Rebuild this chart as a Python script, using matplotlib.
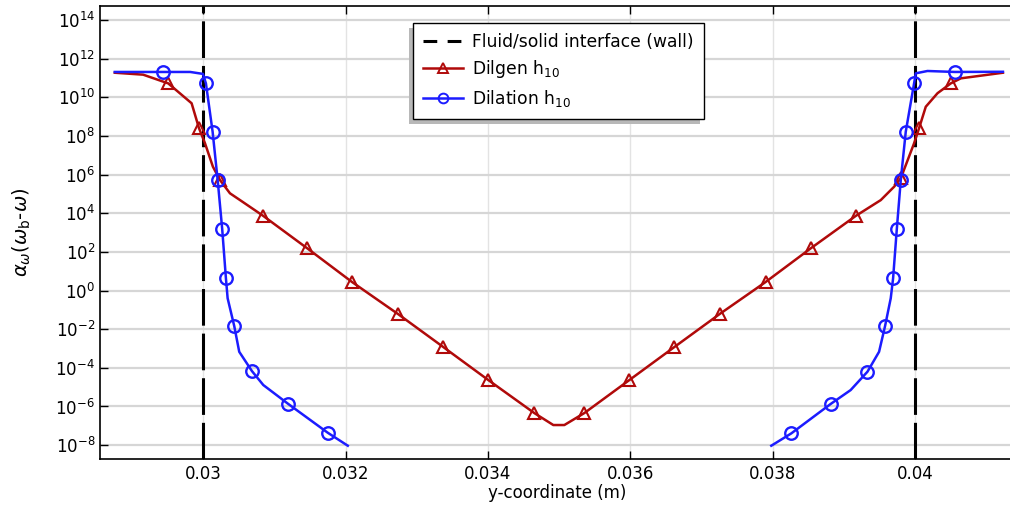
import numpy as np
import matplotlib
matplotlib.use("Agg")
import matplotlib.pyplot as plt
from matplotlib.patches import Rectangle
from matplotlib.ticker import FixedLocator, NullLocator, LogFormatterSciNotation

plt.rcParams["mathtext.fontset"] = "dejavusans"

# Dilgen h10 curve: y-coordinate (m) and log10 of alpha_w(w_b - w)
dilgen_y = [0.028758, 0.029156, 0.029508, 0.029837, 0.029940, 0.030024, 0.030136,
            0.030235, 0.030376, 0.030517, 0.030844, 0.031463, 0.032091, 0.032738,
            0.033371, 0.034004, 0.034651, 0.034918, 0.035073, 0.035354, 0.035987,
            0.036620, 0.037253, 0.037900, 0.038533, 0.039166, 0.039518, 0.039705,
            0.039799, 0.039986, 0.040056, 0.040150, 0.040315, 0.040502, 0.040643,
            0.041234]
dilgen_log = [11.27, 11.17, 10.72, 9.69, 8.41, 7.63, 6.41,
              5.72, 5.03, 4.68, 3.86, 2.18, 0.44, -1.22,
              -2.92, -4.63, -6.34, -6.96, -6.96, -6.34, -4.63,
              -2.92, -1.22, 0.44, 2.18, 3.86, 4.68, 5.37,
              5.81, 7.62, 8.40, 9.51, 10.21, 10.72, 10.98,
              11.27]
dilgen_marks = [2, 4, 7, 10, 11, 12, 13, 14, 15, 16, 19, 20, 21, 22, 23, 24, 25,
                28, 30, 33]

# Dilation h10 curve (gap in the middle of the channel)
dilation_y = [0.028758, 0.029435, 0.029817, 0.029996, 0.030038, 0.030132, 0.030203,
              0.030267, 0.030319, 0.030343, 0.030436, 0.030506, 0.030685, 0.030844,
              0.031195, 0.031750, 0.032031, np.nan,
              0.037980, 0.038262, 0.038814, 0.039095, 0.039331, 0.039494, 0.039578,
              0.039658, 0.039691, 0.039743, 0.039799, 0.039869, 0.039986, 0.040010,
              0.040174, 0.040558, 0.041234]
dilation_log = [11.31, 11.31, 11.31, 11.21, 10.72, 8.22, 5.72,
                3.17, 0.63, -0.40, -1.84, -3.17, -4.17, -4.89,
                -5.87, -7.36, -8.03, np.nan,
                -8.03, -7.39, -5.87, -5.15, -4.20, -3.17, -1.84,
                -0.40, 0.63, 3.17, 5.72, 8.22, 10.72, 11.24,
                11.36, 11.31, 11.32]
dilation_marks = [1, 4, 5, 6, 7, 8, 10, 12, 14, 15,
                  19, 20, 22, 24, 26, 27, 28, 29, 30, 33]

wall_positions = [0.03, 0.04]
x_ticks = [0.030, 0.032, 0.034, 0.036, 0.038, 0.040]
x_tick_labels = ["0.03", "0.032", "0.034", "0.036", "0.038", "0.04"]
y_exponents = list(range(-8, 15, 2))

red = "#b00a0a"
blue = "#1c1cff"

fig = plt.figure(figsize=(10.1, 5.05), dpi=100)
ax = fig.add_axes([0.099, 0.091, 0.905, 0.897])

ax.set_yscale("log")

for i, xw in enumerate(wall_positions):
    ax.axvline(xw, color="black", lw=2.2, dashes=(12, 2.6),
               label="Fluid/solid interface (wall)" if i == 0 else "_nolegend_", zorder=2)

ax.plot(dilgen_y, np.power(10.0, dilgen_log), color=red, lw=1.8,
        marker="^", markevery=dilgen_marks, markersize=9, markerfacecolor="none",
        markeredgecolor=red, markeredgewidth=1.5, label=r"Dilgen h$_{10}$", zorder=3)
ax.plot(dilation_y, np.power(10.0, dilation_log), color=blue, lw=1.8,
        marker="o", markevery=dilation_marks, markersize=9, markerfacecolor="none",
        markeredgecolor=blue, markeredgewidth=1.7, label=r"Dilation h$_{10}$", zorder=4)

ax.set_xlim(0.02855, 0.04139)
ax.set_ylim(10 ** -8.72, 10 ** 14.72)

ax.xaxis.set_major_locator(FixedLocator(x_ticks))
ax.set_xticklabels(x_tick_labels)
ax.yaxis.set_major_locator(FixedLocator([10.0 ** e for e in y_exponents]))
ax.yaxis.set_major_formatter(LogFormatterSciNotation())
ax.yaxis.set_minor_locator(NullLocator())
ax.xaxis.set_minor_locator(NullLocator())

ax.tick_params(direction="in", length=6, width=1, labelsize=12, top=True, right=False,
               colors="black")
ax.tick_params(axis="x", pad=4)
ax.spines["right"].set_visible(False)
for s in ["left", "bottom", "top"]:
    ax.spines[s].set_linewidth(1.2)

ax.yaxis.grid(True, color="#d6d6d6", lw=1.6, zorder=0)
ax.xaxis.grid(True, color="#e3e3e3", lw=1.0, zorder=0)
ax.set_axisbelow(True)

ax.set_xlabel("y-coordinate (m)", fontsize=12, labelpad=1)
ax.set_ylabel(r"$\alpha_{\omega}(\omega_{\mathrm{b}}$-$\omega)$", fontsize=14, labelpad=16)

leg = ax.legend(loc="upper left", bbox_to_anchor=(0.3425, 0.9625), fontsize=12.3,
                fancybox=False, shadow=False, edgecolor="black", framealpha=1,
                handlelength=2.35, handletextpad=0.5, borderpad=0.6,
                labelspacing=0.42, borderaxespad=0)
leg.get_frame().set_linewidth(1.0)
leg.set_zorder(6)
leg_lines = leg.get_lines()
leg_lines[0].set_dashes((4.5, 3.4))
for ln in leg_lines[1:]:
    ln.set_markersize(7)
    ln.set_markeredgewidth(1.4)

# offset grey shadow behind the legend box (down-left, like the original)
fig.canvas.draw()
bb = leg.get_window_extent()
shadow = Rectangle((bb.x0 - 4, bb.y0 - 5), bb.width, bb.height, transform=None,
                   facecolor="#b8b8b8", edgecolor="none", zorder=5.5, clip_on=False)
ax.add_artist(shadow)

fig.savefig("out.png", dpi=100)
